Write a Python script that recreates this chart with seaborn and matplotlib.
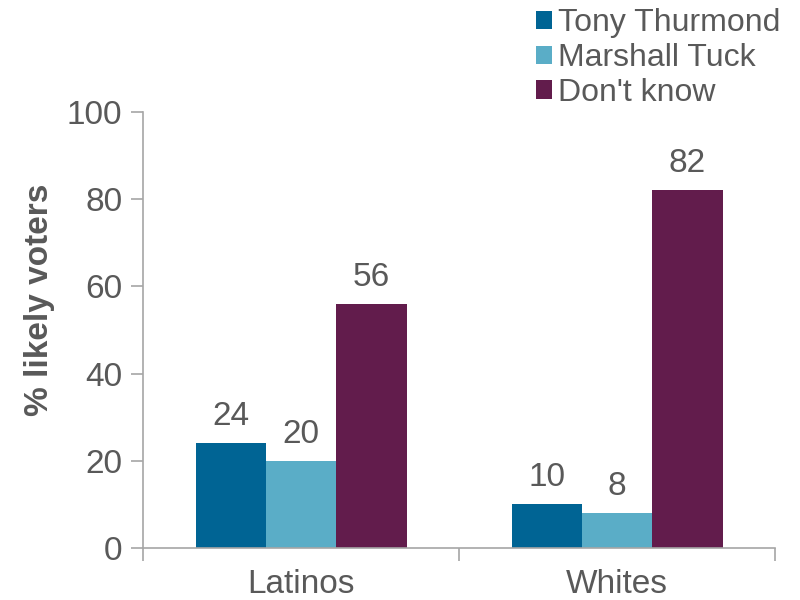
import seaborn as sns
import pandas as pd
import matplotlib.pyplot as plt
from matplotlib.ticker import FixedLocator

# Survey data
groups = ['Latinos', 'Whites']
candidates = ['Tony Thurmond', 'Marshall Tuck', "Don't know"]
thurmond = [24, 10]
tuck = [20, 8]
dont_know = [56, 82]

colors = ['#006494', '#5AADC7', '#621C4C']
text_color = '#595959'
axis_color = '#A6A6A6'

rows = []
for cand, vals in zip(candidates, [thurmond, tuck, dont_know]):
    for g, v in zip(groups, vals):
        rows.append({'group': g, 'candidate': cand, 'value': v})
df = pd.DataFrame(rows)

sns.set_style('white')
plt.rcParams['font.family'] = ['Liberation Sans', 'DejaVu Sans']

fig = plt.figure(figsize=(8, 6), dpi=100)
ax = fig.add_axes([0.179, 0.0867, 0.79, 0.7266])

sns.barplot(data=df, x='group', y='value', hue='candidate', order=groups,
            hue_order=candidates, palette=colors, width=0.667,
            saturation=1, errorbar=None, linewidth=0, ax=ax)

for c in ax.containers:
    ax.bar_label(c, padding=8, fontsize=24, color=text_color)

ax.set_ylim(0, 100)
ax.set_xlim(-0.5, 1.5)
ax.set_yticks(range(0, 101, 20))
ax.tick_params(axis='y', labelsize=24, labelcolor=text_color, length=9,
               color=axis_color, width=1.2, left=True, direction='out', pad=6)
ax.tick_params(axis='x', which='major', labelsize=24, labelcolor=text_color,
               length=0, pad=15)
ax.xaxis.set_minor_locator(FixedLocator([-0.5, 0.5, 1.5]))
ax.tick_params(axis='x', which='minor', length=9, color=axis_color,
               width=1.2, bottom=True, direction='out')

ax.set_xlabel('')
ax.set_ylabel('% likely voters', fontsize=24, fontweight='bold',
              color=text_color)
ax.yaxis.set_label_coords(-0.139, 0.569)

sns.despine(ax=ax)
for s in ['left', 'bottom']:
    ax.spines[s].set_color(axis_color)
    ax.spines[s].set_linewidth(1.2)

leg = ax.legend(loc='upper left', bbox_to_anchor=(0.65, 1.013),
                bbox_transform=fig.transFigure, frameon=False, fontsize=23,
                handlelength=0.5, handleheight=0.5, handletextpad=0.2,
                labelspacing=0.15, borderpad=0)
for t in leg.get_texts():
    t.set_color(text_color)

fig.savefig('out.png', dpi=100)
